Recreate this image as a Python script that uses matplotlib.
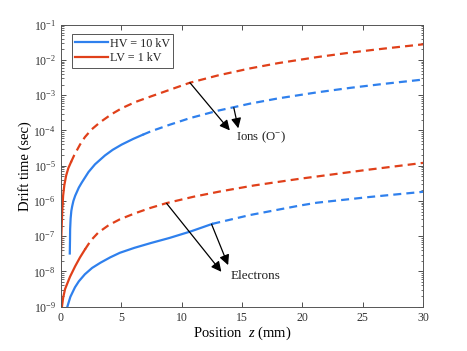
import matplotlib
matplotlib.use('Agg')
import matplotlib.pyplot as plt
import numpy as np

# Drift time curves (z in mm, log10 of time in s)
# LV = 1 kV, ions: solid near the tip, dashed further out
lv_ion_solid_z = [0.0, 0.05, 0.13, 0.2, 0.3, 0.45, 0.63, 0.85]
lv_ion_solid_lt = [-8.0, -7.0, -6.26, -5.85, -5.55, -5.28, -5.07, -4.90]
lv_ion_dash_z = [0.85, 1.12, 1.6, 2.0, 2.56, 3.25, 4.2, 5.05, 6.2, 7.5,
                 9.0, 10.7, 13.0, 15.66, 18.0, 21.2, 24.0, 26.7, 30.0]
lv_ion_dash_lt = [-4.90, -4.70, -4.40, -4.19, -3.97, -3.77, -3.54, -3.37,
                  -3.19, -3.03, -2.85, -2.645, -2.44, -2.24, -2.09, -1.92,
                  -1.79, -1.68, -1.556]

# HV = 10 kV, ions
hv_ion_solid_z = [0.75, 0.77, 0.78, 0.82, 0.88, 0.95, 1.05, 1.2, 1.5, 1.74,
                  2.3, 2.84, 3.66, 4.3, 5.05, 6.0, 6.8]
hv_ion_solid_lt = [-7.49, -7.1, -6.8, -6.5, -6.28, -6.15, -6.0, -5.85,
                   -5.62, -5.48, -5.18, -4.96, -4.71, -4.55, -4.40, -4.24,
                   -4.12]
hv_ion_dash_z = [6.8, 7.5, 9.0, 10.7, 13.0, 15.66, 18.0, 21.2, 24.0, 26.7,
                 30.0]
hv_ion_dash_lt = [-4.12, -4.02, -3.84, -3.65, -3.44, -3.24, -3.09, -2.92,
                  -2.79, -2.68, -2.556]

# LV = 1 kV, electrons
lv_el_solid_z = [0.1, 0.2, 0.36, 0.77, 1.2, 1.6, 2.0]
lv_el_solid_lt = [-9.0, -8.75, -8.5, -8.15, -7.85, -7.6, -7.38]
lv_el_dash_z = [2.0, 2.5, 3.1, 4.0, 4.9, 6.15, 7.4, 8.77, 11.0, 13.2, 16.0,
                19.8, 25.3, 30.0]
lv_el_dash_lt = [-7.38, -7.12, -6.90, -6.68, -6.52, -6.35, -6.20, -6.06,
                 -5.88, -5.73, -5.56, -5.37, -5.12, -4.92]

# HV = 10 kV, electrons
hv_el_solid_z = [0.55, 0.8, 1.18, 1.5, 2.0, 2.6, 3.3, 4.1, 4.9, 6.1, 7.5,
                 9.0, 10.8, 12.55]
hv_el_solid_lt = [-9.0, -8.72, -8.45, -8.28, -8.08, -7.90, -7.75, -7.60,
                  -7.47, -7.33, -7.19, -7.05, -6.86, -6.65]
hv_el_dash_z = [12.55, 15.66, 19.8, 21.2, 25.5, 30.0]
hv_el_dash_lt = [-6.65, -6.40, -6.13, -6.05, -5.89, -5.74]

x_ticks = [0, 5, 10, 15, 20, 25, 30]

BLUE = "#2f80ed"
RED = "#e0401a"
DASH = (3.6, 2.3)

plt.rcParams['font.family'] = ['Liberation Serif', 'DejaVu Serif']
plt.rcParams['mathtext.fontset'] = 'custom'
plt.rcParams['mathtext.rm'] = 'Liberation Serif'
plt.rcParams['mathtext.it'] = 'Liberation Serif:italic'
plt.rcParams['text.color'] = '#222222'

fig = plt.figure(figsize=(4.67, 3.51), dpi=100)
ax = fig.add_axes([0.130, 0.1262, 0.776, 0.8034])


def draw(z, lt, color, dashed=False, label=None):
    t = 10.0 ** np.asarray(lt)
    line, = ax.semilogy(z, t, color=color, lw=1.6, label=label)
    if dashed:
        line.set_dashes(DASH)
    return line


draw(hv_ion_solid_z, hv_ion_solid_lt, BLUE, label="HV = 10 kV")
draw(lv_ion_solid_z, lv_ion_solid_lt, RED, label="LV = 1 kV")
draw(hv_ion_dash_z, hv_ion_dash_lt, BLUE, dashed=True)
draw(lv_ion_dash_z, lv_ion_dash_lt, RED, dashed=True)
draw(hv_el_solid_z, hv_el_solid_lt, BLUE)
draw(lv_el_solid_z, lv_el_solid_lt, RED)
draw(hv_el_dash_z, hv_el_dash_lt, BLUE, dashed=True)
draw(lv_el_dash_z, lv_el_dash_lt, RED, dashed=True)

ax.set_xlim(0, 30)
ax.set_ylim(1e-9, 1e-1)
ax.set_xticks(x_ticks)
ax.set_yticks([10.0 ** k for k in range(-9, 0)])
ax.yaxis.set_minor_locator(matplotlib.ticker.LogLocator(base=10, subs=np.arange(2, 10), numticks=20))
ax.yaxis.set_minor_formatter(matplotlib.ticker.NullFormatter())

ax.tick_params(which='both', direction='in', top=True, right=True,
               colors='#333333', labelsize=8.5)
ax.tick_params(which='major', length=3.5, width=0.6)
ax.tick_params(which='minor', length=1.8, width=0.5)
for sp in ax.spines.values():
    sp.set_color('#555555')
    sp.set_linewidth(0.7)

ax.set_xlabel("Position  $z$ (mm)", fontsize=10.5, labelpad=1)
ax.set_ylabel("Drift time (sec)", fontsize=10.5, labelpad=1)

leg = ax.legend(loc='upper left', bbox_to_anchor=(0.03, 0.967),
                borderaxespad=0, fontsize=8.7, fancybox=False, framealpha=1,
                edgecolor='#555555', handlelength=2.7, handletextpad=0.15,
                borderpad=0.3, labelspacing=0.2)
leg.get_frame().set_linewidth(0.7)

arrow = dict(arrowstyle='-|>', color='black', lw=0.9, mutation_scale=15,
             shrinkA=0, shrinkB=0)
# ions
ax.annotate('', xy=(14.0, 1.0e-4), xytext=(10.7, 2.26e-3), arrowprops=arrow)
ax.annotate('', xy=(14.7, 1.15e-4), xytext=(14.33, 4.4e-4), arrowprops=arrow)
ax.text(14.5, 10 ** -4.19, "Ions (O$^{-}$)", fontsize=9.2, va='center', ha='left')
# electrons
ax.annotate('', xy=(13.3, 10 ** -8.01), xytext=(8.77, 10 ** -6.07), arrowprops=arrow)
ax.annotate('', xy=(13.86, 10 ** -7.82), xytext=(12.49, 10 ** -6.66), arrowprops=arrow)
ax.text(14.1, 10 ** -8.12, "Electrons", fontsize=9.5, va='center', ha='left')

fig.savefig("out.png", dpi=100)
